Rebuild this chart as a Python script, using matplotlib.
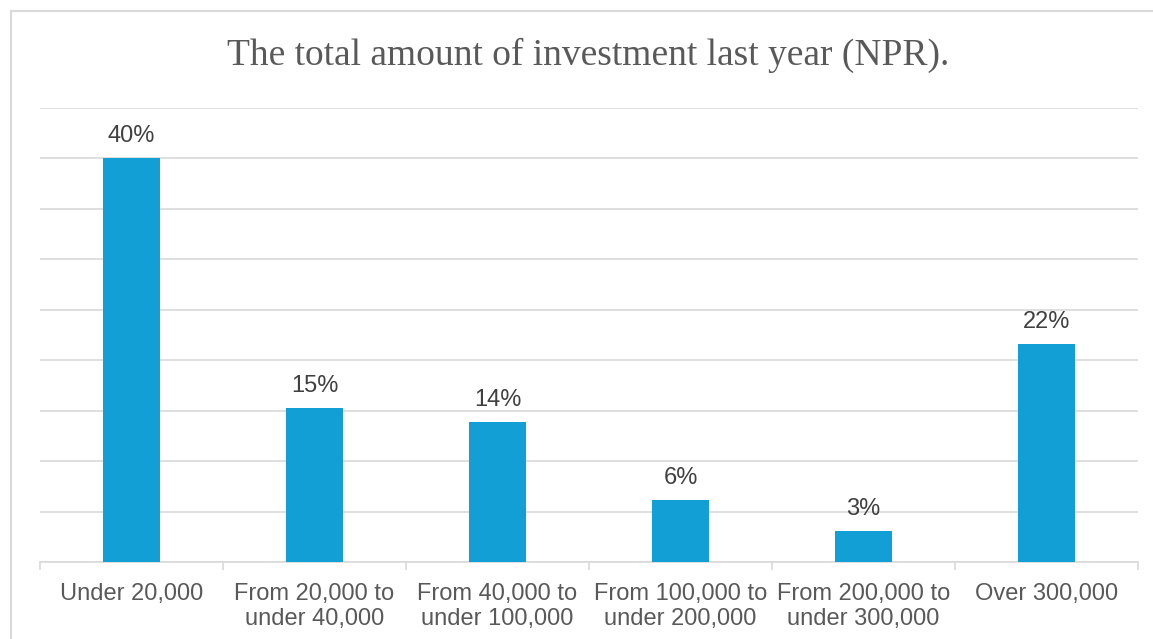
import matplotlib
matplotlib.use("Agg")
import matplotlib.pyplot as plt
from matplotlib.patches import Rectangle

categories = ["Under 20,000", "From 20,000 to\nunder 40,000", "From 40,000 to\nunder 100,000",
              "From 100,000 to\nunder 200,000", "From 200,000 to\nunder 300,000", "Over 300,000"]
values = [40.0, 15.3, 13.9, 6.1, 3.1, 21.6]
labels = ["40%", "15%", "14%", "6%", "3%", "22%"]

W, H = 1153, 639
fig = plt.figure(figsize=(W / 100, H / 100), dpi=100)

# chart border (right and bottom edges fall outside the image)
fig.patches.append(Rectangle((11 / W, -0.2), 1.2, 1.2 - 11 / H, transform=fig.transFigure,
                             fill=False, edgecolor="#D9D9D9", linewidth=1.5))

ax = fig.add_axes([40 / W, 1 - 562 / H, (1138 - 40) / W, (562 - 108) / H])
x = range(len(categories))
ax.bar(x, values, width=0.31, color="#119FD6", zorder=3)
for i, (v, lab) in enumerate(zip(values, labels)):
    ax.text(i, v + 1.1, lab, ha="center", va="bottom", fontsize=17, color="#404040",
            family="Liberation Sans")

ax.set_xlim(-0.5, len(categories) - 0.5)
ax.set_ylim(0, 45)
ax.set_yticks(range(0, 46, 5))
ax.yaxis.grid(True, color="#D9D9D9", linewidth=1.2, zorder=0)
ax.tick_params(axis="y", left=False, labelleft=False)
ax.set_xticks(list(x))
ax.set_xticklabels(categories, fontsize=17, color="#595959", family="Liberation Sans",
                   linespacing=1.2)
ax.set_xticks([i - 0.5 for i in range(len(categories) + 1)], minor=True)
ax.tick_params(axis="x", which="major", length=0, pad=15)
ax.tick_params(axis="x", which="minor", length=6, color="#D9D9D9", width=1.2)
for s in ["top", "right", "left"]:
    ax.spines[s].set_visible(False)
ax.spines["bottom"].set_color("#D9D9D9")
ax.spines["bottom"].set_linewidth(1.2)

fig.text(588 / W, 1 - 55 / H, "The total amount of investment last year (NPR).",
         ha="center", va="center", fontsize=27, color="#595959", family="Liberation Serif")

fig.savefig("out.png", dpi=100)
